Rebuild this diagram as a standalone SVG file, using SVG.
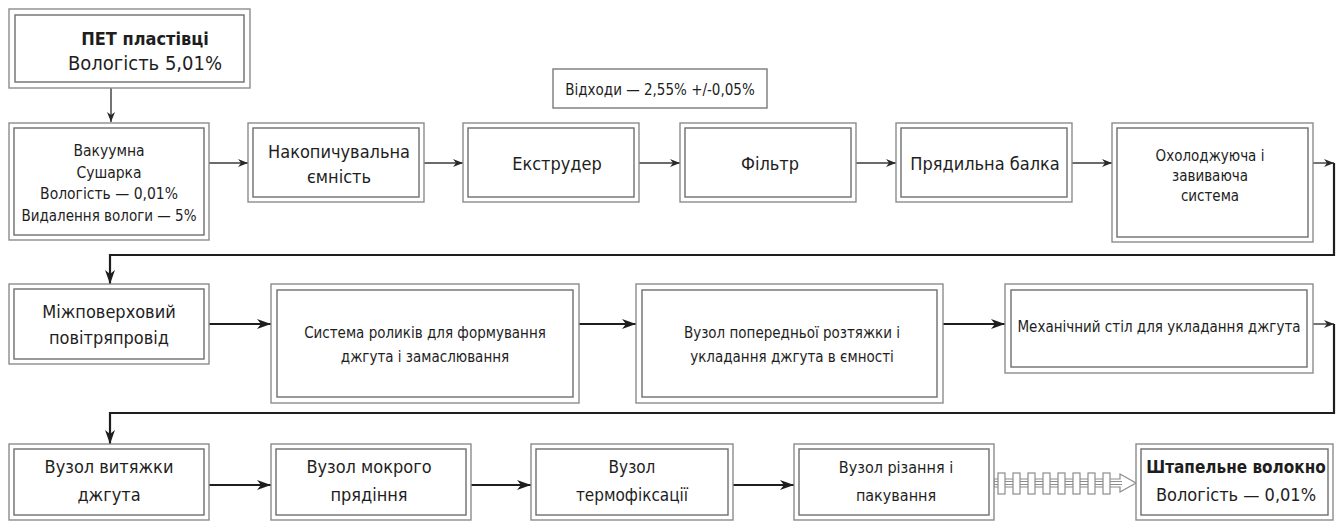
<svg xmlns="http://www.w3.org/2000/svg" width="1344" height="522" viewBox="0 0 1344 522">
  <defs>
    <style>
      .o { fill: #fff; stroke: #8c8c8c; stroke-width: 1.4; }
      .i { fill: none; stroke: #6e6e6e; stroke-width: 1.4; }
      .s { fill: #fff; stroke: #7a7a7a; stroke-width: 1.4; }
      .t { font-family: "DejaVu Sans Condensed", "DejaVu Sans", sans-serif; font-stretch: condensed; fill: #1e1e1e; text-anchor: middle; }
      .b { font-weight: bold; }
      .thin { fill: none; stroke: #3a3a3a; stroke-width: 1.4; }
      .thick { fill: none; stroke: #1e1e1e; stroke-width: 2.2; }
      .belt { fill: #fff; stroke: #8c8c8c; stroke-width: 1.2; }
    </style>
    <marker id="ah" markerUnits="userSpaceOnUse" markerWidth="12" markerHeight="10" refX="10" refY="4" orient="auto">
      <path d="M0,0 L10,4 L0,8 L3,4 z" fill="#2a2a2a"/>
    </marker>
    <marker id="ahb" markerUnits="userSpaceOnUse" markerWidth="16" markerHeight="12" refX="14" refY="5" orient="auto">
      <path d="M0,0 L14,5 L0,10 L4,5 z" fill="#1e1e1e"/>
    </marker>
  </defs>

  <!-- connectors -->
  <g id="connectors">
    <line class="thin" x1="111" y1="88" x2="111" y2="122" marker-end="url(#ah)"/>
    <line class="thin" x1="209" y1="163" x2="248" y2="163" marker-end="url(#ah)"/>
    <line class="thin" x1="424" y1="163" x2="463" y2="163" marker-end="url(#ah)"/>
    <line class="thin" x1="639" y1="163" x2="680" y2="163" marker-end="url(#ah)"/>
    <line class="thin" x1="856" y1="163" x2="896" y2="163" marker-end="url(#ah)"/>
    <line class="thin" x1="1072" y1="163" x2="1112" y2="163" marker-end="url(#ah)"/>
    <line class="thin" x1="1313" y1="163" x2="1334" y2="163" marker-end="url(#ah)"/>
    <polyline class="thick" points="1334,163 1334,255 110,255 110,284" marker-end="url(#ahb)"/>

    <line class="thick" x1="209" y1="324" x2="271" y2="324" marker-end="url(#ahb)"/>
    <line class="thick" x1="579" y1="324" x2="636" y2="324" marker-end="url(#ahb)"/>
    <line class="thick" x1="943" y1="324" x2="1005" y2="324" marker-end="url(#ahb)"/>
    <line class="thin" x1="1313" y1="324" x2="1334" y2="324" marker-end="url(#ah)"/>
    <polyline class="thick" points="1334,324 1334,413 110,413 110,444" marker-end="url(#ahb)"/>

    <line class="thick" x1="209" y1="485" x2="271" y2="485" marker-end="url(#ahb)"/>
    <line class="thick" x1="471" y1="485" x2="531" y2="485" marker-end="url(#ahb)"/>
    <line class="thick" x1="733" y1="485" x2="794" y2="485" marker-end="url(#ahb)"/>

    <!-- belt arrow towards the finished product -->
    <g id="belt">
      <path class="belt" d="M994,479 H1120 V474 L1136,483 L1120,492 V487 H994 Z"/>
      <line x1="994" y1="481.5" x2="1122" y2="481.5" stroke="#8c8c8c" stroke-width="1"/>
      <line x1="994" y1="484.5" x2="1122" y2="484.5" stroke="#8c8c8c" stroke-width="1"/>
      <rect class="belt" x="998" y="473" width="7" height="21"/>
      <rect class="belt" x="1013" y="473" width="7" height="21"/>
      <rect class="belt" x="1028" y="473" width="7" height="21"/>
      <rect class="belt" x="1043" y="473" width="7" height="21"/>
      <rect class="belt" x="1058" y="473" width="7" height="21"/>
      <rect class="belt" x="1073" y="473" width="7" height="21"/>
      <rect class="belt" x="1088" y="473" width="7" height="21"/>
      <rect class="belt" x="1103" y="473" width="7" height="21"/>
    </g>
  </g>

  <!-- raw material -->
  <g id="n1">
    <rect class="o" x="9" y="9" width="241" height="79"/>
    <rect class="i" x="15" y="15" width="229" height="67"/>
    <text class="t b" x="145" y="45" font-size="18">ПЕТ пластівці</text>
    <text class="t" x="145" y="70" font-size="20">Вологість 5,01%</text>
  </g>

  <g id="n2">
    <rect class="o" x="9" y="123" width="200" height="117"/>
    <rect class="i" x="14" y="128" width="190" height="107"/>
    <text class="t" x="109" y="156" font-size="15.5">Вакуумна</text>
    <text class="t" x="109" y="178" font-size="15.5">Сушарка</text>
    <text class="t" x="109" y="199" font-size="15.5">Вологість — 0,01%</text>
    <text class="t" x="109" y="221" font-size="15">Видалення вологи — 5%</text>
  </g>

  <g id="n3">
    <rect class="o" x="248" y="123" width="176" height="79"/>
    <rect class="i" x="253" y="128" width="166" height="69"/>
    <text class="t" x="339" y="158" font-size="18">Накопичувальна</text>
    <text class="t" x="339" y="183" font-size="18">ємність</text>
  </g>

  <g id="n4">
    <rect class="o" x="463" y="123" width="176" height="79"/>
    <rect class="i" x="468" y="128" width="166" height="69"/>
    <text class="t" x="557" y="170" font-size="18">Екструдер</text>
  </g>

  <g id="n5">
    <rect class="o" x="680" y="123" width="176" height="79"/>
    <rect class="i" x="685" y="128" width="166" height="69"/>
    <text class="t" x="770" y="170" font-size="18">Фільтр</text>
  </g>

  <g id="n6">
    <rect class="o" x="896" y="123" width="176" height="79"/>
    <rect class="i" x="901" y="128" width="166" height="69"/>
    <text class="t" x="985" y="170" font-size="18">Прядильна балка</text>
  </g>

  <g id="n7">
    <rect class="o" x="1112" y="123" width="201" height="119"/>
    <rect class="i" x="1117" y="128" width="191" height="109"/>
    <text class="t" x="1210" y="161" font-size="15">Охолоджуюча і</text>
    <text class="t" x="1210" y="181" font-size="15">завиваюча</text>
    <text class="t" x="1210" y="201" font-size="15">система</text>
  </g>

  <g id="waste">
    <rect class="s" x="553" y="69" width="214" height="39"/>
    <text class="t" x="660" y="95" font-size="15">Відходи — 2,55% +/-0,05%</text>
  </g>

  <g id="n8">
    <rect class="o" x="9" y="284" width="200" height="80"/>
    <rect class="i" x="14" y="289" width="190" height="70"/>
    <text class="t" x="109" y="318" font-size="18">Міжповерховий</text>
    <text class="t" x="109" y="344" font-size="18">повітряпровід</text>
  </g>

  <g id="n9">
    <rect class="o" x="271" y="284" width="308" height="119"/>
    <rect class="i" x="277" y="290" width="296" height="107"/>
    <text class="t" x="425" y="338" font-size="15">Система роликів для формування</text>
    <text class="t" x="425" y="362" font-size="15">джгута і замаслювання</text>
  </g>

  <g id="n10">
    <rect class="o" x="636" y="284" width="307" height="119"/>
    <rect class="i" x="642" y="290" width="295" height="107"/>
    <text class="t" x="792" y="338" font-size="15">Вузол попередньої розтяжки і</text>
    <text class="t" x="792" y="362" font-size="15">укладання джгута в ємності</text>
  </g>

  <g id="n11">
    <rect class="o" x="1005" y="284" width="308" height="89"/>
    <rect class="i" x="1011" y="290" width="296" height="77"/>
    <text class="t" x="1159" y="332" font-size="15">Механічний стіл для укладання джгута</text>
  </g>

  <g id="n12">
    <rect class="o" x="9" y="444" width="200" height="76"/>
    <rect class="i" x="14" y="449" width="190" height="66"/>
    <text class="t" x="109" y="473" font-size="18">Вузол витяжки</text>
    <text class="t" x="109" y="501" font-size="18">джгута</text>
  </g>

  <g id="n13">
    <rect class="o" x="271" y="444" width="200" height="76"/>
    <rect class="i" x="276" y="449" width="190" height="66"/>
    <text class="t" x="369" y="473" font-size="18">Вузол мокрого</text>
    <text class="t" x="369" y="501" font-size="18">прядіння</text>
  </g>

  <g id="n14">
    <rect class="o" x="531" y="444" width="202" height="76"/>
    <rect class="i" x="536" y="449" width="192" height="66"/>
    <text class="t" x="632" y="473" font-size="17">Вузол</text>
    <text class="t" x="632" y="501" font-size="17">термофіксації</text>
  </g>

  <g id="n15">
    <rect class="o" x="794" y="444" width="200" height="76"/>
    <rect class="i" x="799" y="449" width="190" height="66"/>
    <text class="t" x="896" y="473" font-size="16">Вузол різання і</text>
    <text class="t" x="896" y="501" font-size="16">пакування</text>
  </g>

  <g id="n16">
    <rect class="o" x="1136" y="444" width="197" height="76"/>
    <rect class="i" x="1141" y="449" width="187" height="66"/>
    <text class="t b" x="1236" y="473" font-size="17">Штапельне волокно</text>
    <text class="t" x="1236" y="501" font-size="18">Вологість — 0,01%</text>
  </g>
</svg>
